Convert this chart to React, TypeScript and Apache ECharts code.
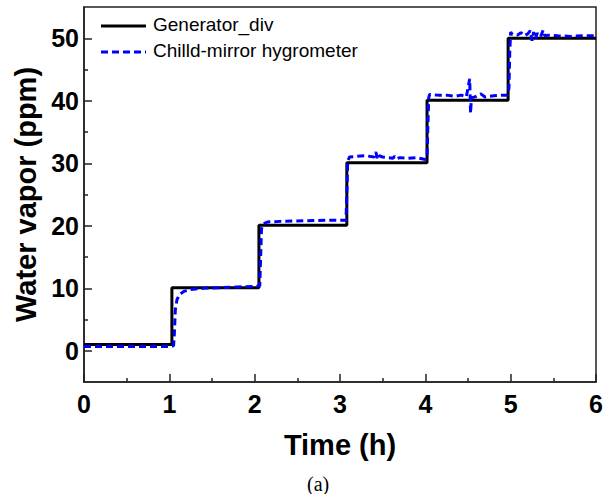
import React, { useEffect, useRef } from "react";
import * as echarts from "echarts";

const generatorName = "Generator_div";
const hygrometerName = "Chilld-mirror hygrometer";

const xTickLabels = [0, 1, 2, 3, 4, 5, 6];
const yMajorTicks = [0, 10, 20, 30, 40, 50];
const yMinorTicks = [5, 15, 25, 35, 45];

const generatorData: [number, number][] = [
  [0, 1.0], [1.03, 1.0], [1.03, 10.1], [2.05, 10.1], [2.05, 20.1], [3.08, 20.1],
  [3.08, 30.1], [4.02, 30.1], [4.02, 40.1], [4.97, 40.1], [4.97, 50.0], [6.0, 50.0],
];

const hygrometerData: [number, number][] = [
  [0, 0.7], [0.5, 0.7], [1.0, 0.7], [1.05, 0.8], [1.06, 3], [1.07, 6.5], [1.09, 8.2],
  [1.12, 9.0], [1.17, 9.5], [1.25, 9.8], [1.4, 10.0], [1.6, 10.1], [1.8, 10.2], [2.0, 10.3],
  [2.06, 10.4], [2.07, 15], [2.08, 19.5], [2.1, 20.3], [2.15, 20.6], [2.3, 20.7], [2.6, 20.8],
  [2.9, 20.9], [3.07, 20.9], [3.08, 25], [3.09, 30.2], [3.11, 31.0], [3.2, 31.1], [3.3, 31.2],
  [3.4, 31.0], [3.42, 31.8], [3.44, 30.6], [3.46, 31.2], [3.5, 31.0], [3.55, 30.9], [3.62, 30.8],
  [3.64, 31.1], [3.66, 30.7], [3.7, 30.9], [3.8, 30.8], [3.9, 30.9], [4.0, 30.6], [4.02, 31],
  [4.03, 36], [4.04, 40.5], [4.05, 41.0], [4.15, 40.9], [4.25, 40.9], [4.35, 40.7], [4.42, 40.9],
  [4.48, 40.6], [4.52, 43.5], [4.53, 38.0], [4.54, 40.5], [4.58, 40.6], [4.65, 41.1], [4.7, 40.6],
  [4.8, 40.8], [4.9, 40.9], [4.96, 40.9], [4.98, 42], [4.99, 48], [5.0, 51.0], [5.02, 50.6],
  [5.08, 50.5], [5.12, 50.9], [5.16, 50.4], [5.2, 50.7], [5.23, 51.2], [5.25, 49.6], [5.27, 51.0],
  [5.29, 49.9], [5.31, 50.8], [5.35, 50.2], [5.38, 51.3], [5.4, 50.4], [5.45, 50.5], [5.55, 50.4],
  [5.7, 50.3], [5.85, 50.4], [6.0, 50.4],
];

const FONT = '"Liberation Sans", Arial, sans-serif';
const AXIS_COLOR = "#222";
const BLUE = "#0000ff";

export default function App() {
  const ref = useRef<HTMLDivElement>(null);
  useEffect(() => {
    if (!ref.current) return;
    const chart = echarts.init(ref.current, undefined, { renderer: "svg" });
    chart.setOption({
      animation: false,
      backgroundColor: "#fff",
      grid: {
        left: 84, right: 14, top: 7, bottom: 112,
        show: true, borderColor: AXIS_COLOR, borderWidth: 1.5, backgroundColor: "transparent",
      },
      legend: { show: false },
      xAxis: [
        {
          type: "value", min: 0, max: 6, interval: 1,
          name: "Time (h)", nameLocation: "middle", nameGap: 48,
          nameTextStyle: { fontFamily: FONT, fontSize: 29, fontWeight: "bold", color: "#000" },
          axisLine: { show: true, onZero: false, lineStyle: { color: AXIS_COLOR, width: 1.5 } },
          axisTick: { show: true, inside: true, length: 8, lineStyle: { color: AXIS_COLOR, width: 1.5 } },
          minorTick: { show: true, splitNumber: 2, length: 4, lineStyle: { color: AXIS_COLOR, width: 1.5 } },
          axisLabel: {
            margin: 9, fontFamily: FONT, fontSize: 25, fontWeight: "bold", color: "#000",
            customValues: xTickLabels,
          },
          splitLine: { show: false },
        },
      ],
      yAxis: [
        {
          type: "value", min: -5, max: 55,
          name: "Water vapor (ppm)", nameLocation: "middle", nameGap: 42,
          nameTextStyle: { fontFamily: FONT, fontSize: 29, fontWeight: "bold", color: "#000" },
          axisLine: { show: true, onZero: false, lineStyle: { color: AXIS_COLOR, width: 1.5 } },
          axisTick: { show: true, inside: true, length: 8, customValues: yMajorTicks, lineStyle: { color: AXIS_COLOR, width: 1.5 } },
          axisLabel: {
            margin: 5, fontFamily: FONT, fontSize: 25, fontWeight: "bold", color: "#000",
            customValues: yMajorTicks,
          },
          splitLine: { show: false },
        },
        {
          type: "value", min: -5, max: 55, position: "left",
          axisLine: { show: false, onZero: false },
          axisTick: { show: true, inside: true, length: 4, customValues: yMinorTicks, lineStyle: { color: AXIS_COLOR, width: 1.5 } },
          axisLabel: { show: false },
          splitLine: { show: false },
        },
      ],
      series: [
        {
          name: generatorName, type: "line", data: generatorData, symbol: "none", showSymbol: false,
          lineStyle: { color: "#000", width: 3 }, itemStyle: { color: "#000" }, z: 2,
        },
        {
          name: hygrometerName, type: "line", data: hygrometerData, symbol: "none", showSymbol: false,
          lineStyle: { color: BLUE, width: 3, type: [7, 4] }, itemStyle: { color: BLUE }, z: 3,
        },
      ],
      graphic: [
        {
          type: "line", shape: { x1: 101, y1: 26, x2: 146, y2: 26 },
          style: { stroke: "#000", lineWidth: 3 },
        },
        {
          type: "text", left: 153, top: 15,
          style: { text: generatorName, fontFamily: FONT, fontSize: 19, fill: "#000" },
        },
        {
          type: "line", shape: { x1: 101, y1: 52, x2: 146, y2: 52 },
          style: { stroke: BLUE, lineWidth: 3, lineDash: [7, 4] },
        },
        {
          type: "text", left: 153, top: 41,
          style: { text: hygrometerName, fontFamily: FONT, fontSize: 19, fill: "#000" },
        },
        {
          type: "text", left: 307, top: 474,
          style: { text: "(a)", fontFamily: '"Liberation Serif", "Times New Roman", serif', fontSize: 20, fill: "#000" },
        },
      ],
    });
    return () => chart.dispose();
  }, []);
  return <div ref={ref} style={{ position: "absolute", left: 0, top: 0, width: 610, height: 494 }} />;
}
